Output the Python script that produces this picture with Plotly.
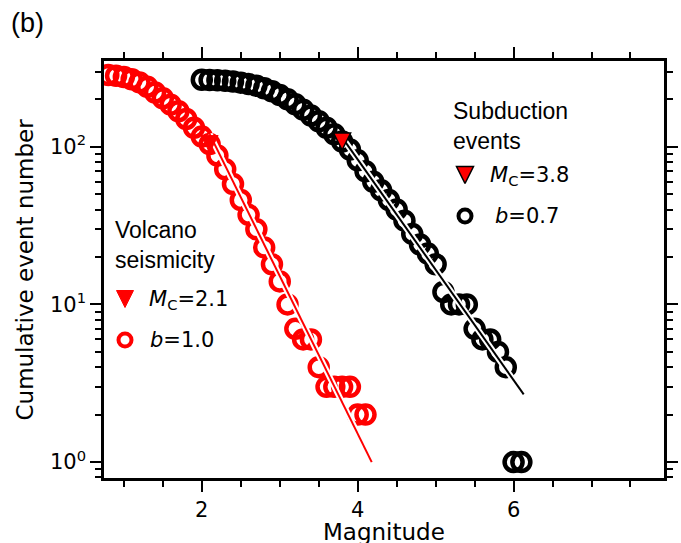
import plotly.graph_objects as go

# Cumulative number of events with magnitude >= M
volc_mag = [0.8, 0.9, 1.0, 1.1, 1.2, 1.3, 1.4, 1.5, 1.6, 1.7, 1.8, 1.9, 2.0, 2.1, 2.2, 2.3, 2.4,
            2.5, 2.6, 2.7, 2.8, 2.9, 3.0, 3.1, 3.2, 3.3, 3.4, 3.5, 3.6, 3.7, 3.8, 3.9, 4.0, 4.1]
volc_count = [285, 282, 277, 268, 256, 240, 221, 203, 185, 168, 150, 132, 116, 104, 88, 72, 58,
              46, 37, 30, 23, 18, 14, 10, 7, 6, 6, 4, 3, 3, 3, 3, 2, 2]

subd_mag = [2.0, 2.1, 2.2, 2.3, 2.4, 2.5, 2.6, 2.7, 2.8, 2.9, 3.0, 3.1, 3.2, 3.3, 3.4, 3.5, 3.6,
            3.7, 3.8, 3.9, 4.0, 4.1, 4.2, 4.3, 4.4, 4.5, 4.6, 4.7, 4.8, 4.9, 5.0, 5.1, 5.2, 5.3,
            5.4, 5.5, 5.6, 5.7, 5.8, 5.9, 6.0, 6.1]
subd_count = [266, 265, 264, 262, 259, 255, 250, 244, 235, 225, 213, 200, 186, 172, 158, 145, 132,
              120, 108, 96, 82, 70, 60, 53, 46, 40, 34, 28, 24, 21, 18, 12, 10, 10,
              10, 7, 6, 6, 5, 4, 1, 1]

# Gutenberg-Richter fits: log10 N = a - b M, drawn from Mc to the largest magnitude
volc_mc, volc_b, volc_a, volc_mmax = 2.1, 1.0, 4.18, 4.18
subd_mc, subd_b, subd_a, subd_mmax = 3.8, 0.7, 4.72, 6.13

x_ticks = [2, 4, 6]
x_minor = [1.0, 1.5, 2.5, 3.0, 3.5, 4.5, 5.0, 5.5, 6.5, 7.0, 7.5]
y_ticks = [1, 10, 100]
y_ticktext = ["10<sup>0</sup>", "10<sup>1</sup>", "10<sup>2</sup>"]
y_minor = [0.8, 0.9, 2, 3, 4, 5, 6, 7, 8, 9, 20, 30, 40, 50, 60, 70, 80, 90, 200, 300]

W, H = 681, 543
L, R, T, B = 104, 17, 61, 65
PW, PH = W - L - R, H - T - B


def fx(px):
    return (px - L) / PW


def fy(py):
    return (H - B - py) / PH


def count_at(mags, counts, m):
    return counts[min(range(len(mags)), key=lambda i: abs(mags[i] - m))]


def gr_fit(a, b, m0, m1):
    ms = [m0, m1]
    return ms, [10 ** (a - b * m) for m in ms]


CIRC = dict(symbol="circle-open", size=18, line=dict(width=4.5))
TRI = dict(symbol="arrow-down", size=17, standoff=8.5)

fig = go.Figure()


def add_series(mags, counts, a, b, mc, mmax, color):
    fig.add_trace(go.Scatter(x=mags, y=counts, mode="markers",
                             marker=dict(CIRC, color=color), showlegend=False))
    lx, ly = gr_fit(a, b, mc, mmax)
    fig.add_trace(go.Scatter(x=lx, y=ly, mode="lines",
                             line=dict(color="white", width=6), showlegend=False))
    fig.add_trace(go.Scatter(x=lx, y=ly, mode="lines",
                             line=dict(color=color, width=2), showlegend=False))


add_series(volc_mag, volc_count, volc_a, volc_b, volc_mc, volc_mmax, "red")
add_series(subd_mag, subd_count, subd_a, subd_b, subd_mc, subd_mmax, "black")

# Completeness magnitude markers
fig.add_trace(go.Scatter(x=[volc_mc], y=[count_at(volc_mag, volc_count, volc_mc)], mode="markers",
                         marker=dict(TRI, color="red", line=dict(color="red", width=1)),
                         showlegend=False))
fig.add_trace(go.Scatter(x=[subd_mc], y=[count_at(subd_mag, subd_count, subd_mc)], mode="markers",
                         marker=dict(TRI, color="red", line=dict(color="black", width=1.5)),
                         showlegend=False))

# Hand-placed legend markers on an overlay axis
leg_x = [fx(125), fx(125), fx(465), fx(465)]
leg_y = [fy(299), fy(340), fy(175), fy(216)]
fig.add_trace(go.Scatter(x=[leg_x[0]], y=[leg_y[0]], xaxis="x2", yaxis="y2", mode="markers",
                         marker=dict(TRI, color="red", line=dict(color="red", width=1)),
                         showlegend=False))
fig.add_trace(go.Scatter(x=[leg_x[2]], y=[leg_y[2]], xaxis="x2", yaxis="y2", mode="markers",
                         marker=dict(TRI, color="red", line=dict(color="black", width=1.5)),
                         showlegend=False))
fig.add_trace(go.Scatter(x=[leg_x[1]], y=[leg_y[1]], xaxis="x2", yaxis="y2", mode="markers",
                         marker=dict(symbol="circle-open", size=13, color="red", line=dict(width=4)),
                         showlegend=False))
fig.add_trace(go.Scatter(x=[leg_x[3]], y=[leg_y[3]], xaxis="x2", yaxis="y2", mode="markers",
                         marker=dict(symbol="circle-open", size=13, color="black", line=dict(width=4)),
                         showlegend=False))

SANS = dict(family="Liberation Sans, Arial, sans-serif", size=23, color="black")
MATH = dict(family="DejaVu Sans", size=21, color="black")
TICK = dict(family="DejaVu Sans", size=21, color="black")
TITLE = dict(family="DejaVu Sans", size=23, color="black")


def label(text, px, py, font, xanchor="left", yanchor="middle", **kw):
    fig.add_annotation(text=text, x=fx(px), y=fy(py), xref="paper", yref="paper",
                       xanchor=xanchor, yanchor=yanchor, showarrow=False, font=font, align="left", **kw)


label("Volcano<br>seismicity", 113, 245, SANS)
label(f"<i>M</i><sub>C</sub>=2.1", 147, 300, MATH)
label(f"<i>b</i>={volc_b:.1f}", 148, 340, MATH)
label("Subduction<br>events", 451, 126, SANS)
label(f"<i>M</i><sub>C</sub>=3.8", 488, 176, MATH)
label(f"<i>b</i>={subd_b:.1f}", 493, 216, MATH)
label("(b)", 9, 23, dict(family="Liberation Sans, Arial, sans-serif", size=27, color="black"))

# Axis titles
fig.add_annotation(text="Magnitude", x=0.5, y=0, xref="paper", yref="paper", xanchor="center",
                   yanchor="middle", yshift=-54, showarrow=False, font=TITLE)
fig.add_annotation(text="Cumulative event number", x=0, y=0.5, xref="paper", yref="paper",
                   xanchor="center", yanchor="middle", xshift=-80, textangle=-90, showarrow=False,
                   font=TITLE)

axis_common = dict(showline=True, linecolor="black", linewidth=2.5, mirror="allticks",
                   ticks="outside", ticklen=11, tickwidth=2, tickcolor="black",
                   showgrid=False, zeroline=False, tickfont=TICK, automargin=False)

fig.update_layout(
    width=W, height=H,
    margin=dict(l=L, r=R, t=T, b=B, pad=0),
    paper_bgcolor="white", plot_bgcolor="white",
    xaxis=dict(axis_common, range=[0.745, 7.93], tickmode="array", tickvals=x_ticks,
               minor=dict(tickmode="array", tickvals=x_minor, ticks="outside", ticklen=6,
                          tickwidth=2, tickcolor="black", showgrid=False)),
    yaxis=dict(axis_common, type="log", range=[-0.101, 2.544], tickmode="array",
               tickvals=y_ticks, ticktext=y_ticktext,
               minor=dict(tickmode="array", tickvals=y_minor, ticks="outside", ticklen=6,
                          tickwidth=2, tickcolor="black", showgrid=False)),
    xaxis2=dict(overlaying="x", range=[0, 1], visible=False, fixedrange=True),
    yaxis2=dict(overlaying="y", range=[0, 1], visible=False, fixedrange=True),
    showlegend=False,
)

fig.write_html("out.html")
